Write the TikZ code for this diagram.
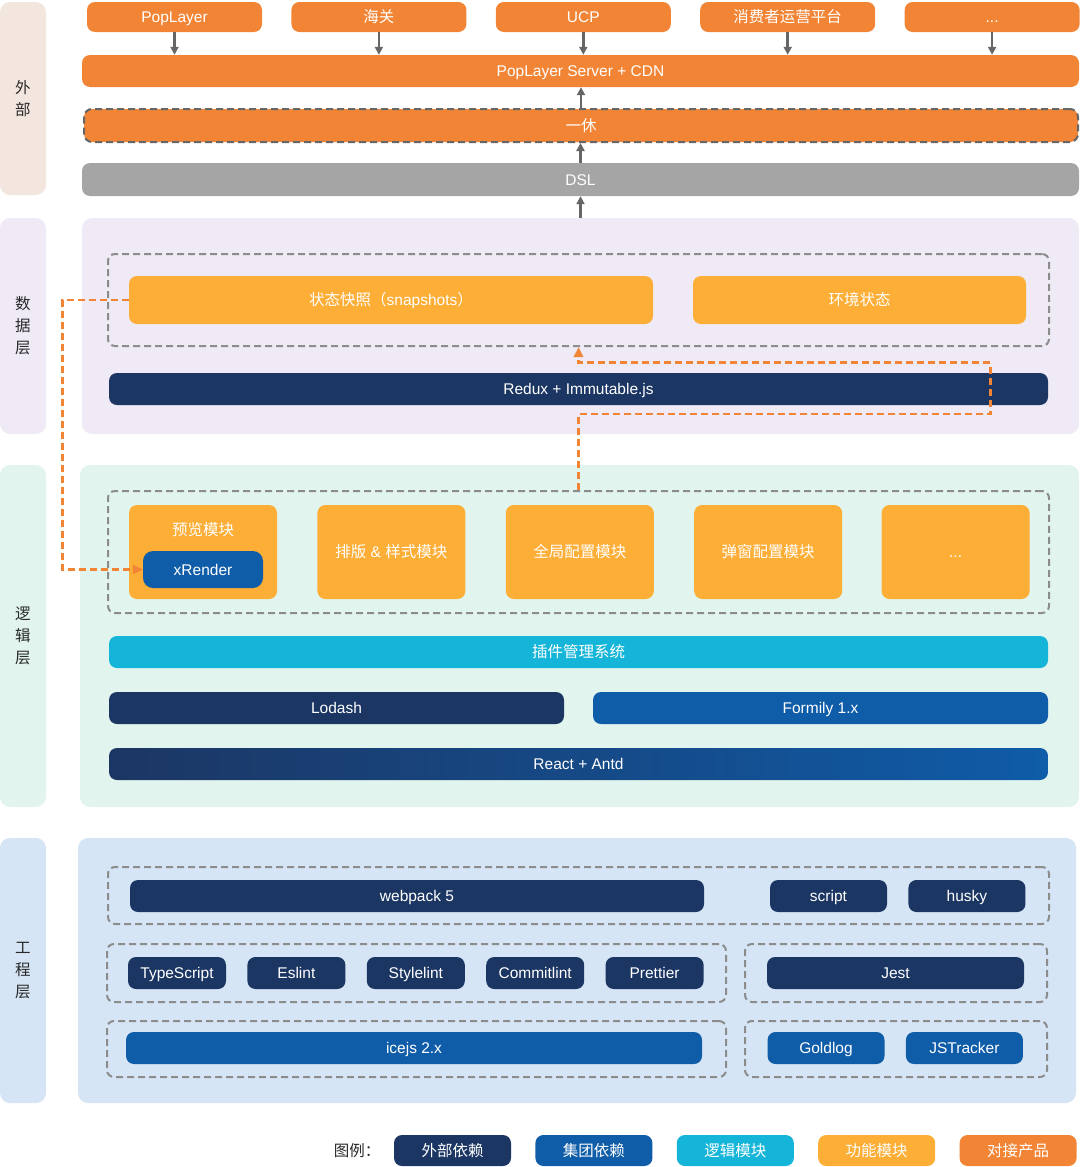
\documentclass[tikz,border=0pt]{standalone}
\usepackage{fontspec}
\setmainfont{Liberation Sans}
\newfontfamily\cjk{Noto Sans CJK SC}
\usepackage{tikz}
\usetikzlibrary{arrows.meta,positioning,calc}
\definecolor{extorange}{RGB}{242, 133, 53}
\definecolor{featyellow}{RGB}{253, 174, 54}
\definecolor{logiccyan}{RGB}{20, 181, 216}
\definecolor{depnavy}{RGB}{28, 54, 99}
\definecolor{depblue}{RGB}{15, 92, 168}
\definecolor{dslgray}{RGB}{165, 165, 165}
\definecolor{arrowgray}{RGB}{102, 102, 102}
\definecolor{groupgray}{RGB}{140, 140, 140}
\definecolor{extbg}{RGB}{242, 230, 223}
\definecolor{databg}{RGB}{239, 234, 246}
\definecolor{logicbg}{RGB}{225, 245, 238}
\definecolor{engbg}{RGB}{214, 229, 245}
\definecolor{sidetext}{RGB}{40, 40, 40}
\tikzset{
  basebox/.style={
    rounded corners=8pt,
    inner sep=0pt,
    text=white,
    align=center,
    text height=12.5pt,
    text depth=1.4pt,
    font=\fontsize{15.5}{18}\selectfont
  },
  extbox/.style={basebox, fill=extorange},
  featbox/.style={basebox, fill=featyellow},
  logicbox/.style={basebox, fill=logiccyan},
  navybox/.style={basebox, fill=depnavy},
  bluebox/.style={basebox, fill=depblue},
  groupbox/.style={
    draw=groupgray,
    line width=2pt,
    dash pattern=on 7pt off 4pt,
    rounded corners=7pt,
    inner sep=0pt
  },
  panel/.style={rounded corners=10pt, inner sep=0pt},
  sidebar/.style={
    panel,
    minimum width=46pt,
    align=center,
    text=sidetext,
    font=\cjk\fontsize{15.5}{22}\selectfont
  },
  flowarrow/.style={
    -{Triangle[length=8pt,width=8pt]},
    line width=2.6pt,
    draw=arrowgray
  },
  linkarrow/.style={
    -{Triangle[length=10pt,width=9pt]},
    line width=2.8pt,
    draw=extorange,
    dash pattern=on 7pt off 4pt
  }
}
\begin{document}
\begin{tikzpicture}[x=1pt, y=-1pt, node distance=29pt]
  \useasboundingbox (0,0) rectangle (1080,1167);

  % side labels
  \node[sidebar, fill=extbg, minimum height=193pt] (extside) at (23,98.5) {外\\部};
  \node[sidebar, fill=databg, minimum height=216pt] (dataside) at (23,326) {数\\据\\层};
  \node[sidebar, fill=logicbg, minimum height=342pt] (logicside) at (23,636) {逻\\辑\\层};
  \node[sidebar, fill=engbg, minimum height=265pt] (engside) at (23,970.5) {工\\程\\层};

  % layer panels
  \node[panel, fill=databg, minimum width=997pt, minimum height=216pt] (datapanel) at (580.5,326) {};
  \node[panel, fill=logicbg, minimum width=999pt, minimum height=342pt] (logicpanel) at (579.5,636) {};
  \node[panel, fill=engbg, minimum width=998pt, minimum height=265pt] (engpanel) at (577,970.5) {};

  % external
  \node[extbox, minimum width=175pt, minimum height=30pt] (poplayer) at (174.5,17) {PopLayer};
  \node[extbox, minimum width=175pt, minimum height=30pt, right=of poplayer] (haiguan) {\cjk 海关};
  \node[extbox, minimum width=175pt, minimum height=30pt, right=of haiguan] (ucp) {UCP};
  \node[extbox, minimum width=175pt, minimum height=30pt, right=of ucp] (consumer) {\cjk 消费者运营平台};
  \node[extbox, minimum width=175pt, minimum height=30pt, right=of consumer] (moreext) {...};
  \node[extbox, minimum width=997pt, minimum height=32pt] (server) at (580.5,71) {PopLayer Server + CDN};
  \node[extbox, draw=arrowgray, line width=2pt, dash pattern=on 7pt off 4pt, minimum width=994pt, minimum height=33pt] (yixiu) at (581,125.5) {\cjk 一休};
  \node[basebox, fill=dslgray, minimum width=997pt, minimum height=33pt] (dsl) at (580.5,179.5) {DSL};

  \foreach \src in {poplayer, haiguan, ucp, consumer, moreext}
    \draw[flowarrow] (\src.south) -- (\src.south |- server.north);
  \draw[flowarrow] (yixiu.north) -- (yixiu.north |- server.south);
  \draw[flowarrow] (dsl.north) -- (dsl.north |- yixiu.south);
  \draw[flowarrow] (datapanel.north) -- (dsl.south);

  % data layer
  \node[groupbox, minimum width=941pt, minimum height=92pt] (datagroup) at (578.5,300) {};
  \node[featbox, minimum width=524pt, minimum height=48pt] (snap) at (391,300) {{\cjk 状态快照（}snapshots{\cjk ）}};
  \node[featbox, minimum width=333pt, minimum height=48pt] (env) at (859.5,300) {\cjk 环境状态};
  \node[navybox, minimum width=939pt, minimum height=32pt] (redux) at (578.5,389) {Redux + Immutable.js};

  % logic layer
  \node[groupbox, minimum width=941pt, minimum height=122pt] (modgroup) at (578.5,552) {};
  \node[featbox, minimum width=148pt, minimum height=94pt] (preview) at (203,552) {};
  \node[basebox, font=\cjk\fontsize{15.5}{18}\selectfont] (previewtitle) at ([yshift=-25pt]preview.north) {预览模块};
  \node[bluebox, rounded corners=10pt, minimum width=120pt, minimum height=37pt] (xrender) at (203,569.5) {xRender};
  \node[featbox, minimum width=148pt, minimum height=94pt, right=40pt of preview] (layout) {{\cjk 排版} \& {\cjk 样式模块}};
  \node[featbox, minimum width=148pt, minimum height=94pt, right=40pt of layout] (globalcfg) {\cjk 全局配置模块};
  \node[featbox, minimum width=148pt, minimum height=94pt, right=40pt of globalcfg] (popupcfg) {\cjk 弹窗配置模块};
  \node[featbox, minimum width=148pt, minimum height=94pt, right=39pt of popupcfg] (moremod) {...};
  \node[logicbox, minimum width=939pt, minimum height=32pt] (plugin) at (578.5,652) {\cjk 插件管理系统};
  \node[navybox, minimum width=455pt, minimum height=32pt] (lodash) at (336.5,708) {Lodash};
  \node[bluebox, minimum width=455pt, minimum height=32pt] (formily) at (820.5,708) {Formily 1.x};
  \node[basebox, left color=depnavy, right color=depblue, minimum width=939pt, minimum height=32pt] (react) at (578.5,764) {React + Antd};

  % links between layers
  \draw[linkarrow] (snap.west) -- ++(-66,0) |- (xrender.west);
  \draw[linkarrow] (modgroup.north) -- ++(0,-76) -| ([xshift=-58pt,yshift=10pt]redux.north east) -| (datagroup.south);

  % engineering layer
  \node[groupbox, minimum width=941pt, minimum height=57pt] (buildgroup) at (578.5,895.5) {};
  \node[navybox, minimum width=574pt, minimum height=32pt] (webpack) at (417,896) {webpack 5};
  \node[navybox, minimum width=117pt, minimum height=32pt] (script) at (828.5,896) {script};
  \node[navybox, minimum width=117pt, minimum height=32pt, right=21pt of script] (husky) {husky};

  \node[groupbox, minimum width=619pt, minimum height=58pt] (lintgroup) at (416.5,973) {};
  \node[navybox, minimum width=98pt, minimum height=32pt] (typescript) at (177,973) {TypeScript};
  \node[navybox, minimum width=98pt, minimum height=32pt, right=21pt of typescript] (eslint) {Eslint};
  \node[navybox, minimum width=98pt, minimum height=32pt, right=21pt of eslint] (stylelint) {Stylelint};
  \node[navybox, minimum width=98pt, minimum height=32pt, right=21pt of stylelint] (commitlint) {Commitlint};
  \node[navybox, minimum width=98pt, minimum height=32pt, right=21pt of commitlint] (prettier) {Prettier};

  \node[groupbox, minimum width=302pt, minimum height=58pt] (testgroup) at (896,973) {};
  \node[navybox, minimum width=257pt, minimum height=32pt] (jest) at (895.5,973) {Jest};

  \node[groupbox, minimum width=619pt, minimum height=56pt] (appgroup) at (416.5,1049) {};
  \node[bluebox, minimum width=576pt, minimum height=32pt] (icejs) at (414,1048) {icejs 2.x};

  \node[groupbox, minimum width=302pt, minimum height=56pt] (trackgroup) at (896,1049) {};
  \node[bluebox, minimum width=117pt, minimum height=32pt] (goldlog) at (826,1048) {Goldlog};
  \node[bluebox, minimum width=117pt, minimum height=32pt, right=21pt of goldlog] (jstracker) {JSTracker};

  % legend
  \node[font=\cjk\fontsize{15.5}{18}\selectfont, text=sidetext] (legendtitle) at (357,1150.5) {图例：};
  \node[navybox, font=\cjk\fontsize{15.5}{18}\selectfont, minimum width=117pt, minimum height=31pt] (legnavy) at (452.5,1150.5) {外部依赖};
  \node[bluebox, font=\cjk\fontsize{15.5}{18}\selectfont, minimum width=117pt, minimum height=31pt, right=24pt of legnavy] (legblue) {集团依赖};
  \node[logicbox, font=\cjk\fontsize{15.5}{18}\selectfont, minimum width=117pt, minimum height=31pt, right=24pt of legblue] (legcyan) {逻辑模块};
  \node[featbox, font=\cjk\fontsize{15.5}{18}\selectfont, minimum width=117pt, minimum height=31pt, right=24pt of legcyan] (legyellow) {功能模块};
  \node[extbox, font=\cjk\fontsize{15.5}{18}\selectfont, minimum width=117pt, minimum height=31pt, right=24pt of legyellow] (legorange) {对接产品};
\end{tikzpicture}
\end{document}
